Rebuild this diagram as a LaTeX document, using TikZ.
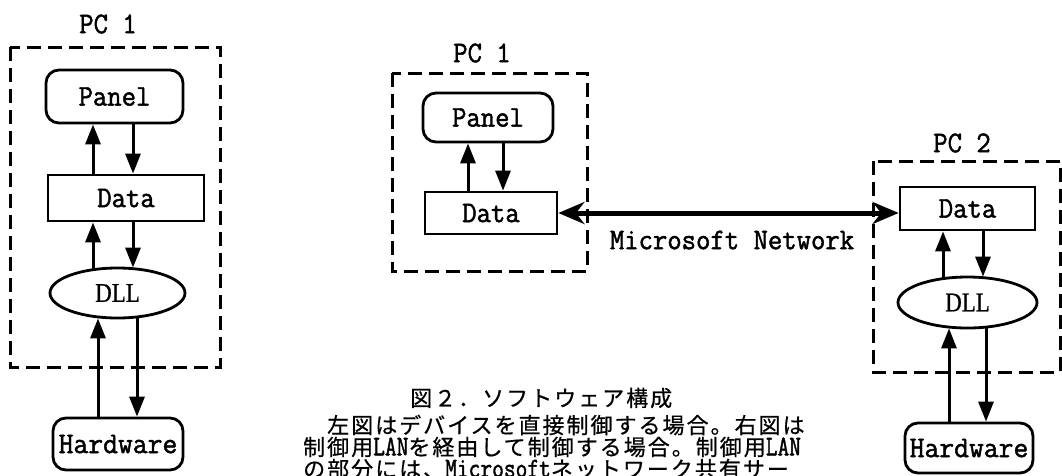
\documentclass[tikz,border=0pt]{standalone}
\usepackage{fontspec}
\usepackage{graphicx}
\newfontfamily\cjk[FakeBold=0.6,LetterSpace=9.1]{Noto Sans CJK JP}
\newfontfamily\lmono[FakeBold=1.6]{Latin Modern Mono}
\newfontfamily\lserif[FakeBold=0.8]{Liberation Serif}
\usetikzlibrary{arrows.meta,shapes.geometric}
\newcommand{\hw}[1]{\scalebox{0.8}[1]{\lmono\fontsize{28.5}{28}\selectfont #1}}
\newcommand{\tx}[1]{\scalebox{0.93}[1]{#1}}
\tikzset{
  lbl/.style={font=\lmono\fontsize{30}{30}\selectfont, inner sep=0pt},
  pcbox/.style={draw, line width=3pt, dash pattern=on 14pt off 7pt},
  rbox/.style={draw, line width=2.8pt, rounded corners=13pt, inner sep=0pt, font=\lmono\fontsize{30}{30}\selectfont},
  sbox/.style={draw, line width=2.8pt, inner sep=0pt, font=\lmono\fontsize{30}{30}\selectfont},
  ebox/.style={draw, ellipse, line width=2.8pt, inner sep=0pt, font=\lserif\fontsize{27}{27}\selectfont},
  arr/.style={line width=3pt, -{Triangle[length=20pt,width=15pt]}},
  netarr/.style={line width=5pt, {Stealth[length=26pt,width=22pt]}-{Stealth[length=26pt,width=22pt]}},
  captxt/.style={font=\cjk\fontsize{22}{22}\selectfont, inner sep=0pt, anchor=west},
}
\begin{document}
\begin{tikzpicture}[x=1pt,y=-1pt]
\clip (0,0) rectangle (1062,475);
\fill[white] (0,0) rectangle (1062,475);

% ---------- left: direct control ----------
\draw[pcbox] (10,47) rectangle (220,367);
\node[lbl] (pcL) at (108,24) {\tx{PC 1}};
\node[rbox, minimum width=137pt, minimum height=53pt] (panelL) at (114.5,96.5) {\tx{Panel}};
\node[sbox, minimum width=156pt, minimum height=46pt] (dataL) at (126,198) {\tx{Data}};
\node[ebox, minimum width=135pt, minimum height=50pt] (dllL) at (117.5,293) {\scalebox{0.85}[1]{DLL}};
\node[rbox, minimum width=130pt, minimum height=52pt] (hwL) at (118,444) {\scalebox{0.96}[1]{Hardware}};
\coordinate (xL1) at (93,0);
\coordinate (xL2) at (133,0);
\coordinate (xL3) at (98,0);
\coordinate (xL4) at (137,0);
\draw[arr] (dataL.north -| xL1) -- (panelL.south -| xL1);
\draw[arr] (panelL.south -| xL2) -- (dataL.north -| xL2);
\draw[arr] ([yshift=-2pt]dllL.north -| xL1) -- (dataL.south -| xL1);
\draw[arr] (dataL.south -| xL2) -- ([yshift=-1pt]dllL.north -| xL2);
\draw[arr] (hwL.north -| xL3) -- ([yshift=1pt]dllL.south -| xL3);
\draw[arr] ([yshift=1pt]dllL.south -| xL4) -- (hwL.north -| xL4);

% ---------- middle: PC 1 over network ----------
\draw[pcbox] (392,73) rectangle (587,271);
\node[lbl] (pcM) at (482,53) {\tx{PC 1}};
\node[rbox, minimum width=130pt, minimum height=49pt] (panelM) at (488,117.5) {\tx{Panel}};
\node[sbox, minimum width=132pt, minimum height=42pt] (dataM) at (491,213) {\tx{Data}};
\coordinate (xM1) at (468,0);
\coordinate (xM2) at (503,0);
\draw[arr] (dataM.north -| xM1) -- (panelM.south -| xM1);
\draw[arr] (panelM.south -| xM2) -- (dataM.north -| xM2);

% ---------- right: PC 2 ----------
\draw[pcbox] (873,161) rectangle (1060,372);
\node[lbl] (pcR) at (962,143) {\tx{PC 2}};
\node[sbox, minimum width=135pt, minimum height=43pt] (dataR) at (967.5,208.5) {\tx{Data}};
\node[ebox, minimum width=139pt, minimum height=51pt] (dllR) at (967.5,302.5) {\scalebox{0.85}[1]{DLL}};
\node[rbox, minimum width=128pt, minimum height=50pt] (hwR) at (969,448) {\scalebox{0.96}[1]{Hardware}};
\coordinate (xR1) at (943,0);
\coordinate (xR2) at (983,0);
\coordinate (xR3) at (949,0);
\coordinate (xR4) at (986,0);
\draw[arr] ([yshift=-2pt]dllR.north -| xR1) -- (dataR.south -| xR1);
\draw[arr] (dataR.south -| xR2) -- ([yshift=-1pt]dllR.north -| xR2);
\draw[arr] (hwR.north -| xR3) -- ([yshift=1pt]dllR.south -| xR3);
\draw[arr] ([yshift=1pt]dllR.south -| xR4) -- (hwR.north -| xR4);

% ---------- network ----------
\draw[netarr] (dataM.east) -- (dataM.east -| dataR.west);
\node[lbl] (net) at (732,240) {\tx{Microsoft Network}};

% ---------- caption ----------
\node[captxt] (cap1) at (410,398) {図２．ソフトウェア構成};
\node[captxt] (cap2) at (303,425) {　左図はデバイスを直接制御する場合。右図は};
\node[captxt] (cap3) at (303,447) {制御用\hw{LAN}を経由して制御する場合。制御用\hw{LAN}};
\node[captxt] (cap4) at (303,469) {の部分には、\hw{Microsoft}ネットワーク共有サー};
\end{tikzpicture}
\end{document}
